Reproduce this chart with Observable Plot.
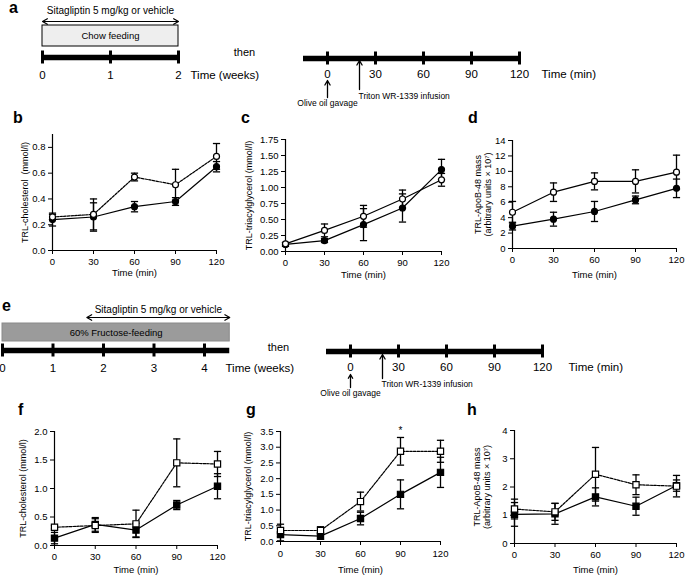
<!DOCTYPE html>
<html><head><meta charset="utf-8">
<script src="https://cdn.jsdelivr.net/npm/d3@7"></script>
<script src="https://cdn.jsdelivr.net/npm/@observablehq/plot@0.6"></script>
<style>
body{margin:0;background:#fff;}
#fig{position:relative;width:685px;height:576px;overflow:hidden;font-family:"Liberation Sans",Arial,Helvetica,sans-serif;color:#000;}
.lt{position:absolute;font-weight:bold;font-size:16px;line-height:1;}
</style></head><body><div id="fig"></div>
<script>
// ---------------- data ----------------
const minutes = [0, 30, 60, 90, 120];
const chowWeeks = [0, 1, 2];
const chowFeedSpan = [0, 2];
const chowDrugSpan = [0, 2];
const fructoseWeeks = [0, 1, 2, 3, 4];
const fructoseFeedSpan = [0, 4.5];
const fructoseDrugSpan = [1.67, 4.5];
const protocolMinSpan = [-15, 120];
const gavageMin = 0;
const tritonMin = 20;

// panel b: TRL-cholesterol, chow
const bOpen = [0.26, 0.28, 0.57, 0.51, 0.73];
const bOpenSem = [0.02, 0.12, 0.03, 0.12, 0.10];
const bClosed = [0.24, 0.26, 0.34, 0.38, 0.65];
const bClosedSem = [0.05, 0.11, 0.04, 0.03, 0.04];
// panel c: TRL-triacylglycerol, chow
const cOpen = [0.12, 0.33, 0.55, 0.82, 1.12];
const cOpenSem = [0.02, 0.10, 0.17, 0.14, 0.10];
const cClosed = [0.11, 0.17, 0.42, 0.68, 1.28];
const cClosedSem = [0.03, 0.03, 0.25, 0.22, 0.16];
// panel d: TRL-ApoB-48, chow
const dOpen = [4.7, 7.3, 8.7, 8.7, 9.9];
const dOpenSem = [1.4, 1.2, 1.1, 1.5, 2.2];
const dClosed = [2.9, 3.8, 4.8, 6.3, 7.8];
const dClosedSem = [0.5, 0.9, 1.3, 0.5, 1.2];
// panel f: TRL-cholesterol, fructose
const fOpen = [0.32, 0.35, 0.38, 1.45, 1.43];
const fOpenSem = [0.03, 0.12, 0.24, 0.42, 0.22];
const fClosed = [0.13, 0.37, 0.27, 0.71, 1.04];
const fClosedSem = [0.10, 0.12, 0.12, 0.08, 0.22];
// panel g: TRL-triacylglycerol, fructose
const gOpen = [0.35, 0.35, 1.27, 2.87, 2.87];
const gOpenSem = [0.20, 0.12, 0.30, 0.44, 0.35];
const gClosed = [0.22, 0.17, 0.73, 1.50, 2.20];
const gClosedSem = [0.20, 0.10, 0.20, 0.46, 0.48];
const gStars = [90];
// panel h: TRL-ApoB-48, fructose
const hOpen = [1.22, 1.12, 2.45, 2.08, 2.03];
const hOpenSem = [0.35, 0.30, 0.95, 0.35, 0.38];
const hClosed = [1.03, 1.05, 1.65, 1.32, 2.05];
const hClosedSem = [0.42, 0.37, 0.32, 0.32, 0.20];

// tick labels
const bTicks = [0, 0.2, 0.4, 0.6, 0.8];
const cTicks = [0, 0.25, 0.5, 0.75, 1, 1.25, 1.5, 1.75];
const dTicks = [0, 2, 4, 6, 8, 10, 12, 14];
const fTicks = [0, 0.5, 1, 1.5, 2];
const gTicks = [0, 0.5, 1, 1.5, 2, 2.5, 3, 3.5];
const hTicks = [0, 1, 2, 3, 4];

// ---------------- drawing ----------------
const fig = document.getElementById("fig");
const FONT = '"Liberation Sans", Arial, Helvetica, sans-serif';
const capSymbol = {draw(ctx, size) { const w = Math.sqrt(size / Math.PI); ctx.moveTo(-w, 0); ctx.lineTo(w, 0); }};

function rows(v, s) { return minutes.map((t, i) => ({t, v: v[i], lo: v[i] - s[i], hi: v[i] + s[i]})); }
function place(svg, L, T) {
  svg.style.position = "absolute"; svg.style.left = L + "px"; svg.style.top = T + "px";
  svg.style.overflow = "visible"; fig.appendChild(svg);
}
function seriesMarks(data, o) {
  return [
    Plot.ruleX(data, {x: "t", y1: "lo", y2: "hi", stroke: "black", strokeWidth: 1.3}),
    Plot.dot(data, {x: "t", y: "lo", symbol: capSymbol, r: 3.6, stroke: "black", fill: "none", strokeWidth: 1.3}),
    Plot.dot(data, {x: "t", y: "hi", symbol: capSymbol, r: 3.6, stroke: "black", fill: "none", strokeWidth: 1.3}),
    Plot.line(data, {x: "t", y: "v", stroke: "black", strokeWidth: 1.2, strokeDasharray: o.dash}),
    Plot.dot(data, {x: "t", y: "v", symbol: o.symbol, r: o.r, fill: o.fill, stroke: "black", strokeWidth: 1.2})
  ];
}
function panel(o) {
  const open = rows(o.open, o.openSem), closed = rows(o.closed, o.closedSem);
  const sym = o.square ? "square" : "circle", r = o.square ? 3.5 : 3;
  const extra = o.extra ? o.extra(open) : [];
  const svg = Plot.plot({
    width: o.W, height: o.H,
    marginLeft: o.x0 - o.L, marginRight: o.L + o.W - o.x120,
    marginTop: o.yTop - o.T, marginBottom: o.T + o.H - o.y0,
    style: {fontFamily: FONT, fontSize: "9.5px", background: "transparent", color: "black"},
    x: {domain: [0, 120], ticks: minutes, tickSize: 4, tickPadding: o.tickPad ?? 4, label: null},
    y: {domain: o.yDomain, ticks: o.yTicks, tickSize: 4, tickPadding: 3, tickFormat: o.yFmt, label: null},
    marks: [
      Plot.ruleX([0], {stroke: "black", strokeWidth: 1.2}),
      Plot.ruleY([o.yDomain[0]], {stroke: "black", strokeWidth: 1.2}),
      ...seriesMarks(closed, {symbol: sym, r, fill: "black"}),
      ...seriesMarks(open, {symbol: sym, r, fill: "white", dash: o.dashOpen}),
      ...extra,
      Plot.text(["Time (min)"], {frameAnchor: "bottom", lineAnchor: "middle", dy: o.xLabDy, text: d => d, fontSize: 9.5}),
      Plot.text([o.ylabel], {frameAnchor: "left", textAnchor: "middle", lineAnchor: "middle", dx: o.yLabDx, rotate: -90, text: d => d, fontSize: 9, lineHeight: 1.15})
    ]
  });
  place(svg, o.L, o.T);
}

// schematic timelines (y in row pixels, x through the time scale)
function schematic(o) {
  const mid = (o.drug ? (o.drug[0] + o.drug[1]) / 2 : 0);
  const marks = [];
  if (o.drug) {
    marks.push(
      Plot.text([o.drugText], {x: mid, y: o.rows.drugText, text: d => d, fontSize: 10}),
      Plot.arrow([o.drug], {x1: mid, x2: d => d[0], y1: o.rows.drugArrow, y2: o.rows.drugArrow, strokeWidth: 1.2, headLength: 7}),
      Plot.arrow([o.drug], {x1: mid, x2: d => d[1], y1: o.rows.drugArrow, y2: o.rows.drugArrow, strokeWidth: 1.2, headLength: 7})
    );
  }
  if (o.feed) {
    marks.push(
      Plot.rect([o.feed], {x1: d => d[0], x2: d => d[1], y1: o.rows.boxTop, y2: o.rows.boxBottom, fill: o.boxFill, stroke: o.boxStroke, strokeWidth: 1}),
      Plot.text([o.feedText], {x: (o.feed[0] + o.feed[1]) / 2, y: (o.rows.boxTop + o.rows.boxBottom) / 2, text: d => d, fontSize: 9.5})
    );
  }
  marks.push(
    Plot.ruleY([o.rows.bar], {x1: o.span[0], x2: o.span[1], stroke: "black", strokeWidth: 5.5}),
    Plot.ruleX(o.ticks, {x: d => d, y1: o.rows.bar - 6.5, y2: o.rows.bar + 6.5, stroke: "black", strokeWidth: 3}),
    Plot.text(o.ticks, {x: d => d, y: o.rows.labels, text: d => String(d), fontSize: 11.5}),
    Plot.text([o.unit], {x: o.ticks[o.ticks.length - 1], y: o.rows.labels, dx: o.unitDx, textAnchor: "start", text: d => d, fontSize: 11.5})
  );
  if (o.gavage !== undefined) {
    marks.push(
      Plot.arrow([o.gavage], {x: d => d, y1: o.rows.gavageFrom, y2: o.rows.gavageTo, strokeWidth: 1.3, headLength: 6}),
      Plot.text(["Olive oil gavage"], {x: o.gavage, y: o.rows.gavageText, text: d => d, fontSize: 8.5}),
      Plot.arrow([o.triton], {x: d => d, y1: o.rows.tritonFrom, y2: o.rows.tritonTo, strokeWidth: 1.3, headLength: 6}),
      Plot.text(["Triton WR-1339 infusion"], {x: o.triton, y: o.rows.tritonText, dx: -1, textAnchor: "start", text: d => d, fontSize: 8.5}),
      Plot.text(["then"], {x: o.span[0], y: o.rows.then, dx: o.thenDx, text: d => d, fontSize: 11})
    );
  }
  const svg = Plot.plot({
    width: o.W, height: o.H, marginLeft: o.ml, marginRight: o.W - o.xr, marginTop: 0, marginBottom: 0,
    style: {fontFamily: FONT, background: "transparent", color: "black"},
    x: {domain: o.domain, axis: null},
    y: {type: "identity", axis: null},
    marks
  });
  place(svg, o.L, o.T);
}

schematic({L: 0, T: 0, W: 260, H: 90, ml: 42, xr: 178, domain: [0, 2],
  drug: chowDrugSpan, drugText: "Sitagliptin 5 mg/kg or vehicle",
  feed: chowFeedSpan, feedText: "Chow feeding", boxFill: "#eeeeee", boxStroke: "black",
  span: [chowWeeks[0], chowWeeks[chowWeeks.length - 1]], ticks: chowWeeks, unit: "Time (weeks)", unitDx: 12,
  rows: {drugText: 10, drugArrow: 21, boxTop: 25, boxBottom: 46, bar: 57, labels: 75}});
schematic({L: 230, T: 0, W: 455, H: 110, ml: 97, xr: 289, domain: [0, 120],
  span: protocolMinSpan, ticks: minutes, unit: "Time (min)", unitDx: 22,
  gavage: gavageMin, triton: tritonMin, thenDx: -59,
  rows: {bar: 58, labels: 74, gavageFrom: 97, gavageTo: 80, gavageText: 103, tritonFrom: 89, tritonTo: 60, tritonText: 96, then: 52}});
schematic({L: 0, T: 300, W: 300, H: 80, ml: 2, xr: 204, domain: [0, 4],
  drug: fructoseDrugSpan, drugText: "Sitagliptin 5 mg/kg or vehicle",
  feed: fructoseFeedSpan, feedText: "60% Fructose-feeding", boxFill: "#9b9b9b", boxStroke: "#8a8a8a",
  span: fructoseFeedSpan, ticks: fructoseWeeks, unit: "Time (weeks)", unitDx: 21,
  rows: {drugText: 9, drugArrow: 17, boxTop: 23, boxBottom: 41, bar: 50, labels: 68}});
schematic({L: 250, T: 300, W: 435, H: 100, ml: 100, xr: 292, domain: [0, 120],
  span: protocolMinSpan, ticks: minutes, unit: "Time (min)", unitDx: 26,
  gavage: gavageMin, triton: tritonMin, thenDx: -48,
  rows: {bar: 51, labels: 67, gavageFrom: 87, gavageTo: 74, gavageText: 93, tritonFrom: 78, tritonTo: 54, tritonText: 84, then: 47}});

const f1 = d3.format(".1f"), f2 = d3.format(".2f"), f0 = d3.format("d");
panel({L: 0, T: 125, W: 230, H: 160, x0: 52, x120: 216, yTop: 134, y0: 250, yDomain: [0, 0.9], yTicks: bTicks, yFmt: f1,
  open: bOpen, openSem: bOpenSem, closed: bClosed, closedSem: bClosedSem, dashOpen: "2.5,1.2",
  ylabel: "TRL-cholesterol  (mmol/l)", yLabDx: -28, xLabDy: 22});
panel({L: 225, T: 125, W: 230, H: 160, x0: 285, x120: 441, yTop: 139, y0: 251, yDomain: [0, 1.75], yTicks: cTicks, yFmt: f2,
  open: cOpen, openSem: cOpenSem, closed: cClosed, closedSem: cClosedSem,
  ylabel: "TRL-triacylglycerol (mmol/l)", yLabDx: -37, xLabDy: 23});
panel({L: 455, T: 125, W: 230, H: 160, x0: 512, x120: 676, yTop: 140, y0: 248, yDomain: [0, 14], yTicks: dTicks, yFmt: f0,
  open: dOpen, openSem: dOpenSem, closed: dClosed, closedSem: dClosedSem,
  ylabel: "TRL-ApoB-48 mass\n(arbitrary units \u00d7 10\u2077)", yLabDx: -30, xLabDy: 26});
panel({L: 0, T: 415, W: 230, H: 161, x0: 54, x120: 217, yTop: 431, y0: 545, yDomain: [0, 2], yTicks: fTicks, yFmt: f1,
  open: fOpen, openSem: fOpenSem, closed: fClosed, closedSem: fClosedSem, square: true, dashOpen: "2.5,1.2",
  ylabel: "TRL-cholesterol (mmol/l)", yLabDx: -32, xLabDy: 24});
panel({L: 225, T: 415, W: 235, H: 161, x0: 280, x120: 440, yTop: 431, y0: 541, yDomain: [0, 3.5], yTicks: gTicks, yFmt: f1,
  open: gOpen, openSem: gOpenSem, closed: gClosed, closedSem: gClosedSem, square: true, dashOpen: "2.5,1.2", tickPad: 5,
  ylabel: "TRL-triacylglycerol (mmol/l)", yLabDx: -33, xLabDy: 28,
  extra: (open) => [Plot.text(open.filter(d => gStars.includes(d.t)), {x: "t", y: "hi", text: () => "*", dy: -7, fontSize: 10})]});
panel({L: 455, T: 415, W: 230, H: 161, x0: 514, x120: 676, yTop: 430, y0: 543, yDomain: [0, 4], yTicks: hTicks, yFmt: f0,
  open: hOpen, openSem: hOpenSem, closed: hClosed, closedSem: hClosedSem, square: true, dashOpen: "2.5,1.2",
  ylabel: "TRL-ApoB-48 mass\n(arbitrary units \u00d7 10\u2077)", yLabDx: -33, xLabDy: 26});

// panel letters
const letters = [["a", 9, 0], ["b", 13, 109.5], ["c", 241, 109.5], ["d", 468, 109.5],
                 ["e", 2, 298], ["f", 18, 401.5], ["g", 246, 401.5], ["h", 467, 401.5]];
for (const [t, x, y] of letters) {
  const d = document.createElement("div"); d.className = "lt"; d.textContent = t;
  d.style.left = x + "px"; d.style.top = y + "px"; fig.appendChild(d);
}
</script></body></html>
